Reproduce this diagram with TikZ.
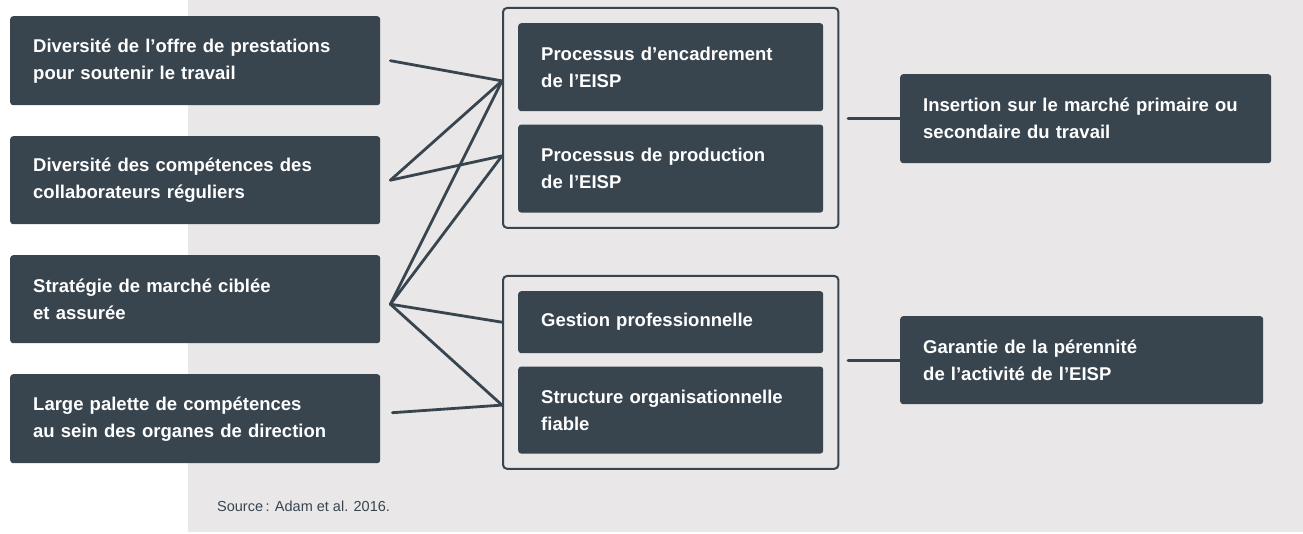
\documentclass[tikz,border=0pt]{standalone}
\usepackage{fontspec}
\setmainfont{Liberation Sans}
\usetikzlibrary{positioning,fit}
\definecolor{boxgray}{RGB}{56,69,79}
\definecolor{panelgray}{RGB}{233,231,232}

\tikzset{
	factor/.style={fill=boxgray, text=white, anchor=north west, align=left,
		font=\fontsize{18.5}{27}\selectfont\bfseries, rounded corners=3pt,
		inner xsep=23pt, inner ysep=0pt, minimum height=#1},
	factor/.default=88pt,
	group/.style={draw=boxgray, line width=2pt, rounded corners=4pt, inner sep=15pt},
	link/.style={draw=boxgray, line width=2.8pt, line cap=round},
}

\begin{document}
\begin{tikzpicture}[x=1pt, y=1pt]
	\useasboundingbox (0,0) rectangle (1303,533);
	\fill[panelgray] (188,1) rectangle (1303,533);
	
	% facteurs
	\node[factor=89pt, text width=324pt] (offre) at (10,517) {Diversité de l’offre de prestations\\pour soutenir le travail};
	\node[factor, text width=324pt] (competences) at (10,397) {Diversité des compétences des\\collaborateurs réguliers};
	\node[factor, text width=324pt] (strategie) at (10,278) {Stratégie de marché ciblée\\et assurée};
	\node[factor=89pt, text width=324pt] (palette) at (10,159) {Large palette de compétences\\au sein des organes de direction};
	
	% processus
	\node[factor, text width=259pt] (encadrement) at (518,510) {Processus d’encadrement\\de l’EISP};
	\node[factor, text width=259pt, below=13pt of encadrement.south west, anchor=north west] (production) {Processus de production\\de l’EISP};
	\node[group, fit=(encadrement)(production)] (processus) {};
	
	\node[factor=62pt, text width=259pt] (gestion) at (518,242) {Gestion professionnelle};
	\node[factor=87pt, text width=259pt, below=13pt of gestion.south west, anchor=north west] (structure) {Structure organisationnelle\\fiable};
	\node[group, fit=(gestion)(structure)] (organisation) {};
	
	% effets
	\node[factor=89pt, text width=325pt] (insertion) at (900,459) {Insertion sur le marché primaire ou\\secondaire du travail};
	\node[factor, text width=317pt] (perennite) at (900,217) {Garantie de la pérennité\\de l’activité de l’EISP};
	
	\node[anchor=west, inner sep=0pt, text=boxgray, font=\fontsize{14.5}{17}\selectfont] (source) at (217,27) {Source\,: Adam et al. 2016.};
	
	% liens
	\coordinate (s1) at ([xshift=10pt]offre.east);
	\coordinate (s2) at ([xshift=10pt]competences.east);
	\coordinate (s3) at ([xshift=10pt, yshift=-5pt]strategie.east);
	\coordinate (s4) at ([xshift=12pt, yshift=6pt]palette.east);
	\coordinate (a1) at ([yshift=37pt]processus.west);
	\coordinate (a2) at ([yshift=-38pt]processus.west);
	\coordinate (b1) at (organisation.west |- gestion.west);
	\coordinate (b2) at ([yshift=5pt]organisation.west |- structure.west);
	
	\foreach \from/\to in {s1/a1, s2/a1, s2/a2, s3/a1, s3/a2, s3/b1, s3/b2, s4/b2}
		\draw[link] (\from) -- (\to);
	
	\draw[link] (insertion.west) -- ++(-52pt,0);
	\draw[link] (perennite.west) -- ++(-52pt,0);
\end{tikzpicture}
\end{document}
